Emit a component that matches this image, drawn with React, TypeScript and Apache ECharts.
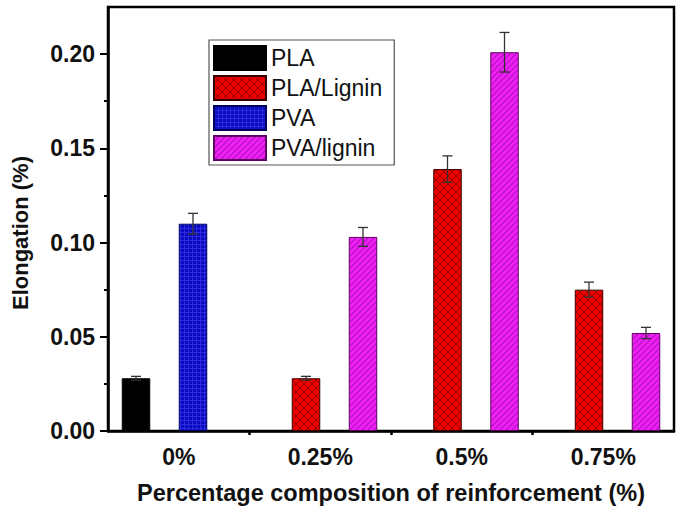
import React, { useEffect, useRef } from "react";
import * as echarts from "echarts";

const categories = ["0%", "0.25%", "0.5%", "0.75%"];
const seriesNames = ["PLA", "PLA/Lignin", "PVA", "PVA/lignin"];
const plaValues = [0.028, null, null, null];
const plaErrors = [0.001, null, null, null];
const plaLigninValues = [null, 0.028, 0.139, 0.075];
const plaLigninErrors = [null, 0.001, 0.007, 0.004];
const pvaValues = [0.11, null, null, null];
const pvaErrors = [0.0055, null, null, null];
const pvaLigninValues = [null, 0.103, 0.201, 0.052];
const pvaLigninErrors = [null, 0.005, 0.0105, 0.003];
const yMajorTicks = [0, 0.05, 0.1, 0.15, 0.2];
const yMinorTicks = [0.025, 0.075, 0.125, 0.175];
const xBoundaryTicks = [1, 2, 3];

const FONT = "'Liberation Sans', Arial, sans-serif";
const BAR_W = 28.5;

function makeCanvas(size: number, draw: (ctx: CanvasRenderingContext2D) => void) {
  const c = document.createElement("canvas");
  c.width = size;
  c.height = size;
  const ctx = c.getContext("2d")!;
  draw(ctx);
  return c;
}

export default function App() {
  const ref = useRef<HTMLDivElement>(null);
  useEffect(() => {
    if (!ref.current) return;
    const chart = echarts.init(ref.current, undefined, { renderer: "svg" });

    const cross = makeCanvas(8, (ctx) => {
      ctx.fillStyle = "#ee0000";
      ctx.fillRect(0, 0, 8, 8);
      ctx.strokeStyle = "rgba(110,0,0,0.65)";
      ctx.lineWidth = 1;
      ctx.beginPath();
      ctx.moveTo(0, 0);
      ctx.lineTo(8, 8);
      ctx.moveTo(8, 0);
      ctx.lineTo(0, 8);
      ctx.stroke();
    });
    const gridPat = makeCanvas(4, (ctx) => {
      ctx.fillStyle = "#0a0ac2";
      ctx.fillRect(0, 0, 4, 4);
      ctx.fillStyle = "#2c2cdc";
      ctx.fillRect(0, 0, 4, 1);
      ctx.fillRect(0, 0, 1, 4);
    });
    const stripes = makeCanvas(6, (ctx) => {
      ctx.fillStyle = "#f020f4";
      ctx.fillRect(0, 0, 6, 6);
      ctx.strokeStyle = "#b012c0";
      ctx.lineWidth = 1.2;
      ctx.beginPath();
      ctx.moveTo(0, 6);
      ctx.lineTo(6, 0);
      ctx.moveTo(-1, 1);
      ctx.lineTo(1, -1);
      ctx.moveTo(5, 7);
      ctx.lineTo(7, 5);
      ctx.stroke();
    });

    const valueSets = [plaValues, plaLigninValues, pvaValues, pvaLigninValues];
    const errorSets = [plaErrors, plaLigninErrors, pvaErrors, pvaLigninErrors];
    const fills: any[] = [
      "#000000",
      { image: cross, repeat: "repeat" },
      { image: gridPat, repeat: "repeat" },
      { image: stripes, repeat: "repeat" },
    ];
    const borders = ["#000000", "#3a0000", "#000060", "#600060"];

    const barSeries = seriesNames.map((name, i) => ({
      name,
      type: "bar",
      xAxisIndex: 0,
      yAxisIndex: 0,
      barWidth: BAR_W,
      barGap: "0%",
      data: valueSets[i].map((v) => (v == null ? "-" : v)),
      itemStyle: { color: fills[i], borderColor: borders[i], borderWidth: 1 },
      z: 2,
    }));

    const errSeries = seriesNames.map((name, i) => ({
      type: "custom",
      xAxisIndex: 0,
      yAxisIndex: 0,
      z: 4,
      silent: true,
      data: valueSets[i]
        .map((v, k) => (v == null ? null : [k, v, errorSets[i][k] as number]))
        .filter((d) => d != null),
      encode: { x: 0, y: 1 },
      renderItem: (params: any, api: any) => {
        const cat = api.value(0);
        const v = api.value(1);
        const e = api.value(2);
        const offset = (i - 1.5) * BAR_W;
        const top = api.coord([cat, v + e]);
        const bot = api.coord([cat, v - e]);
        const cx = top[0] + offset;
        const style = { stroke: "#333", lineWidth: 1.3 };
        return {
          type: "group",
          children: [
            { type: "line", shape: { x1: cx, y1: top[1], x2: cx, y2: bot[1] }, style },
            { type: "line", shape: { x1: cx - 5, y1: top[1], x2: cx + 5, y2: top[1] }, style },
            { type: "line", shape: { x1: cx - 5, y1: bot[1], x2: cx + 5, y2: bot[1] }, style },
          ],
        };
      },
    }));

    const option: any = {
      animation: false,
      backgroundColor: "#ffffff",
      textStyle: { fontFamily: FONT },
      grid: {
        left: 108,
        right: 11,
        top: 7,
        bottom: 83,
        show: true,
        borderColor: "#000",
        borderWidth: 2.5,
        containLabel: false,
      },
      legend: {
        data: seriesNames,
        orient: "vertical",
        left: 209,
        top: 40,
        itemWidth: 52,
        itemHeight: 24,
        itemGap: 4,
        icon: "rect",
        padding: [5, 12, 4, 4],
        borderColor: "#555",
        borderWidth: 1.2,
        textStyle: { fontSize: 23, fontFamily: FONT, color: "#111" },
      },
      xAxis: [
        {
          type: "category",
          data: categories,
          boundaryGap: true,
          name: "Percentage composition of reinforcement (%)",
          nameLocation: "middle",
          nameGap: 50,
          nameTextStyle: { fontSize: 23.5, fontWeight: "bold", color: "#111", fontFamily: FONT },
          axisLine: { lineStyle: { color: "#000", width: 2.5 } },
          axisTick: { alignWithLabel: true, length: 6, lineStyle: { color: "#000", width: 2.5 } },
          axisLabel: { fontSize: 23, fontWeight: "bold", color: "#111", margin: 14, fontFamily: FONT },
          splitLine: { show: false },
        },
        {
          type: "value",
          min: 0,
          max: 4,
          position: "bottom",
          axisLine: { show: false },
          axisLabel: { show: false },
          splitLine: { show: false },
          axisTick: {
            show: true,
            length: 4,
            customValues: xBoundaryTicks,
            lineStyle: { color: "#000", width: 2.5 },
          },
        },
      ],
      yAxis: [
        {
          type: "value",
          min: 0,
          max: 0.225,
          interval: 0.025,
          name: "Elongation (%)",
          nameLocation: "middle",
          nameGap: 77,
          nameTextStyle: {
            fontSize: 22,
            fontWeight: "bold",
            color: "#111",
            fontFamily: FONT,
            padding: [0, 28, 0, 0],
          },
          axisLine: { show: true, lineStyle: { color: "#000", width: 2.5 } },
          axisTick: {
            show: true,
            length: 8,
            customValues: yMajorTicks,
            lineStyle: { color: "#000", width: 2 },
          },
          axisLabel: {
            fontSize: 23,
            fontWeight: "bold",
            color: "#111",
            margin: 13,
            fontFamily: FONT,
            customValues: yMajorTicks,
            formatter: (v: number) => v.toFixed(2),
          },
          splitLine: { show: false },
        },
        {
          type: "value",
          min: 0,
          max: 0.225,
          interval: 0.025,
          position: "left",
          axisLine: { show: false },
          axisLabel: { show: false },
          splitLine: { show: false },
          axisTick: {
            show: true,
            length: 4,
            customValues: yMinorTicks,
            lineStyle: { color: "#000", width: 2 },
          },
        },
      ],
      series: [...barSeries, ...errSeries],
    };
    chart.setOption(option);
    return () => chart.dispose();
  }, []);
  return (
    <div
      ref={ref}
      style={{ position: "absolute", left: 0, top: 0, width: 685, height: 514, background: "#fff" }}
    />
  );
}
